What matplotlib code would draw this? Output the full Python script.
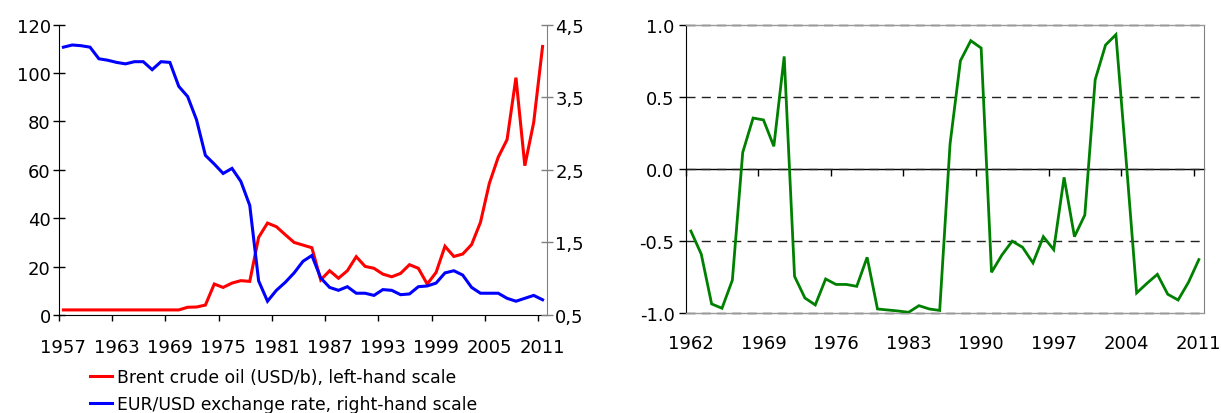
import matplotlib
matplotlib.use("Agg")
import matplotlib.pyplot as plt
import numpy as np

plt.rcParams['font.family'] = ['DejaVu Sans']
plt.rcParams['axes.unicode_minus'] = False

# ---------------- data ----------------
years_left = list(range(1957, 2012))
brent = [2.1, 2.1, 2.1, 2.1, 2.1, 2.1, 2.1, 2.1, 2.1, 2.1, 2.1, 2.1, 2.1, 2.1,
         3.2, 3.3, 4.1, 12.8, 11.4, 13.2, 14.2, 13.9, 32.1, 38.0, 36.5, 33.2,
         30.0, 28.9, 27.8, 14.5, 18.3, 15.2, 18.3, 24.1, 20.1, 19.3, 16.9, 15.8,
         17.2, 20.8, 19.3, 12.8, 17.6, 28.4, 24.2, 25.2, 29.1, 38.3, 54.4, 65.2,
         72.5, 98.1, 61.7, 79.6, 111.0]
eurusd = [4.19, 4.22, 4.21, 4.19, 4.03, 4.01, 3.98, 3.96, 3.99, 3.99, 3.88,
          3.99, 3.98, 3.65, 3.51, 3.19, 2.70, 2.58, 2.45, 2.52, 2.34, 2.01,
          0.97, 0.69, 0.84, 0.95, 1.08, 1.24, 1.32, 1.01, 0.88, 0.84, 0.89,
          0.80, 0.80, 0.77, 0.85, 0.84, 0.78, 0.79, 0.89, 0.90, 0.94, 1.08,
          1.11, 1.05, 0.88, 0.80, 0.80, 0.80, 0.73, 0.69, 0.73, 0.77, 0.71]
left_tick_years = [1957, 1963, 1969, 1975, 1981, 1987, 1993, 1999, 2005, 2011]
left_yticks = [0, 20, 40, 60, 80, 100, 120]
right_yticks = [0.5, 1.5, 2.5, 3.5, 4.5]
right_ylabels = ['0,5', '1,5', '2,5', '3,5', '4,5']
legend_labels = ['Brent crude oil (USD/b), left-hand scale',
                 'EUR/USD exchange rate, right-hand scale']

years_right = list(range(1962, 2012))
corr = [-0.43, -0.59, -0.935, -0.965, -0.77, 0.115, 0.353, 0.34, 0.157, 0.78,
        -0.744, -0.894, -0.942, -0.762, -0.80, -0.80, -0.813, -0.612, -0.97, -0.977,
        -0.984, -0.993, -0.947, -0.97, -0.98, 0.173, 0.75, 0.889, 0.838, -0.716,
        -0.596, -0.50, -0.543, -0.651, -0.469, -0.559, -0.058, -0.469, -0.319, 0.619,
        0.859, 0.931, 0.05, -0.859, -0.792, -0.73, -0.868, -0.908, -0.785, -0.628]
corr_tick_years = [1962, 1969, 1976, 1983, 1990, 1997, 2004, 2011]
corr_yticks = [-1.0, -0.5, 0.0, 0.5, 1.0]
corr_ylabels = ['-1.0', '-0.5', '0.0', '0.5', '1.0']

FS = 13
fig = plt.figure(figsize=(12.21, 4.14), dpi=100)

# ---------------- left chart ----------------
ax = fig.add_axes([0.0483, 0.2367, 0.3997, 0.7013])
xl = np.array(years_left) + 0.5
l1, = ax.plot(xl, brent, color='#FF0000', lw=2.2, solid_joinstyle='miter')
ax.set_xlim(1957, 2012)
ax.set_ylim(0, 120)
ax.set_yticks(left_yticks)
ax.set_xticks(left_tick_years)
ax.set_xticklabels([])
ax.set_xticks(np.array(left_tick_years) + 0.5, labels=[str(y) for y in left_tick_years], minor=True)
ax.tick_params(axis='x', which='major', direction='out', length=4.5, width=1, color='black')
ax.tick_params(axis='x', which='minor', length=0, pad=16.5, labelsize=FS)
ax.tick_params(axis='y', direction='inout', length=8, width=1, pad=2, labelsize=FS)
for s in ['top', 'right']:
    ax.spines[s].set_visible(False)
ax.spines['left'].set_color('black')
ax.spines['bottom'].set_color('black')

ax2 = ax.twinx()
l2, = ax2.plot(xl, eurusd, color='#0000FF', lw=2.2, solid_joinstyle='miter')
ax2.set_ylim(0.5, 4.5)
ax2.set_yticks(right_yticks, labels=right_ylabels)
ax2.tick_params(axis='y', direction='inout', length=8, width=1, pad=2, labelsize=FS, color='#808080')
for s in ['top', 'left', 'bottom']:
    ax2.spines[s].set_visible(False)
ax2.spines['right'].set_color('#808080')

fig.legend([l1, l2], legend_labels, loc='center left', bbox_to_anchor=(0.0737, 0.0543),
           frameon=False, fontsize=12.4, handlelength=1.3, handletextpad=0.25,
           labelspacing=0.55, borderpad=0, borderaxespad=0)

# ---------------- right chart ----------------
bx = fig.add_axes([0.5616, 0.2408, 0.4245, 0.6972])
xr = np.array(years_right) + 0.5
bx.plot(xr, corr, color='#008000', lw=2.0, solid_joinstyle='miter', zorder=3)
bx.set_xlim(1962, 2012)
bx.set_ylim(-1, 1)
bx.set_yticks(corr_yticks, labels=corr_ylabels)
bx.set_xticks(np.array(corr_tick_years) + 0.5, labels=[str(y) for y in corr_tick_years])
bx.tick_params(axis='x', length=0, pad=15, labelsize=FS)
bx.tick_params(axis='y', direction='out', length=5, width=1, pad=3, labelsize=FS)
bx.yaxis.grid(True, linestyle=(0, (6.5, 4.5)), linewidth=1, color='#222222')
for gl in bx.yaxis.get_gridlines():
    gl.set_clip_on(False)
for s in ['top', 'bottom']:
    bx.spines[s].set_color('#9a9a9a')
    bx.spines[s].set_linewidth(1)
bx.spines['left'].set_color('black')
bx.spines['right'].set_color('#808080')

sec = bx.secondary_xaxis(0.49999)
sec.set_xticks(corr_tick_years)
sec.tick_params(axis='x', direction='out', length=5, width=1, labelbottom=False, labeltop=False)
sec.spines['bottom'].set_color('black')
sec.spines['bottom'].set_linewidth(1)

fig.savefig('out.png', dpi=100)
